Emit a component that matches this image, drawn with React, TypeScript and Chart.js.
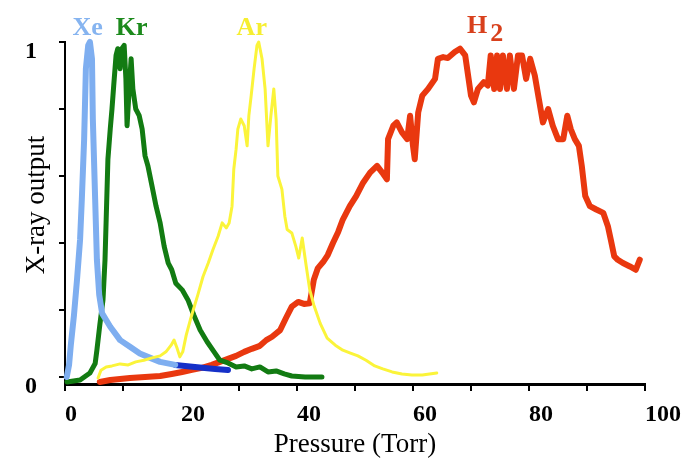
import React, { useEffect, useRef } from "react";
import { Chart, registerables } from "chart.js";

Chart.register(...registerables);

// ---- data (Pressure in Torr, normalised X-ray output) ----
const xeX = [0.3, 0.7, 1.0, 1.55, 2.07, 2.6, 2.9, 3.3, 3.6, 4.0, 4.3, 4.65, 4.8, 5.2, 5.5, 5.9, 6.4, 7.8, 9.5, 11.2, 12.9, 14.7, 16.4, 19.0];
const xeY = [0.0, 0.036, 0.095, 0.185, 0.29, 0.41, 0.53, 0.71, 0.92, 0.99, 1.0, 0.95, 0.77, 0.53, 0.35, 0.245, 0.19, 0.15, 0.11, 0.09, 0.07, 0.057, 0.045, 0.036];

const blueX = [19.0, 20.7, 22.4, 24.1, 25.9, 28.1];
const blueY = [0.036, 0.033, 0.03, 0.027, 0.024, 0.021];

const krX = [0.35, 2.6, 4.3, 5.2, 5.5, 6.0, 6.55, 6.9, 7.1, 7.4, 7.8, 8.1, 8.4, 8.8, 9.1, 9.5, 9.8, 10.2, 10.5, 10.7, 11.0, 11.4, 11.7, 12.2, 12.8, 13.3, 13.8, 14.3, 15.0, 15.7, 16.4, 17.1, 17.8, 18.4, 19.1, 20.2, 21.2, 22.2, 23.3, 24.5, 25.7, 26.7, 28.1, 29.5, 30.9, 32.2, 33.6, 35.0, 36.4, 37.8, 39.1, 41.4, 44.3];
const krY = [-0.015, -0.009, 0.012, 0.04, 0.08, 0.155, 0.23, 0.35, 0.47, 0.65, 0.74, 0.8, 0.87, 0.96, 0.98, 0.92, 0.98, 0.99, 0.89, 0.75, 0.84, 0.95, 0.86, 0.8, 0.78, 0.74, 0.66, 0.63, 0.57, 0.51, 0.46, 0.39, 0.34, 0.32, 0.28, 0.26, 0.23, 0.185, 0.14, 0.105, 0.075, 0.05, 0.042, 0.03, 0.033, 0.024, 0.03, 0.015, 0.018, 0.009, 0.003, 0.0, 0.0];

const arX = [5.7, 6.2, 7.1, 8.1, 9.5, 10.9, 12.2, 13.6, 15.0, 16.4, 17.4, 18.3, 18.8, 19.3, 19.8, 20.3, 20.9, 21.6, 22.2, 22.9, 23.8, 24.7, 25.5, 26.4, 27.1, 27.8, 28.3, 28.8, 29.1, 29.5, 29.8, 30.3, 30.9, 31.4, 31.7, 32.1, 32.6, 33.1, 33.4, 33.97, 34.5, 35.0, 35.5, 36.0, 36.4, 36.7, 37.4, 37.9, 38.3, 39.1, 39.8, 40.3, 40.9, 41.6, 42.2, 42.9, 44.0, 45.2, 46.6, 47.9, 49.1, 50.5, 51.9, 53.4, 54.8, 56.4, 58.1, 59.8, 61.6, 64.1];
const arY = [-0.003, 0.02, 0.03, 0.033, 0.039, 0.036, 0.045, 0.05, 0.057, 0.063, 0.075, 0.095, 0.11, 0.087, 0.06, 0.075, 0.125, 0.17, 0.205, 0.245, 0.3, 0.34, 0.38, 0.42, 0.46, 0.445, 0.46, 0.51, 0.62, 0.68, 0.74, 0.77, 0.75, 0.69, 0.78, 0.84, 0.92, 0.99, 1.0, 0.95, 0.86, 0.69, 0.78, 0.86, 0.77, 0.6, 0.56, 0.48, 0.44, 0.43, 0.39, 0.355, 0.415, 0.33, 0.26, 0.215, 0.16, 0.116, 0.095, 0.08, 0.072, 0.063, 0.05, 0.033, 0.024, 0.015, 0.009, 0.006, 0.006, 0.012];

const h2X = [6.0, 7.8, 9.5, 11.2, 13.8, 16.4, 18.4, 20.2, 21.9, 23.6, 25.3, 26.7, 28.1, 29.5, 30.9, 32.2, 33.6, 34.7, 35.7, 37.1, 38.1, 39.1, 40.2, 41.2, 42.2, 42.9, 43.6, 44.5, 45.3, 46.2, 47.1, 47.9, 49.1, 50.2, 51.4, 52.6, 53.8, 54.7, 55.5, 55.7, 56.6, 57.2, 58.1, 59.0, 59.5, 60.0, 60.3, 60.9, 61.6, 62.6, 63.8, 64.3, 65.2, 66.0, 67.2, 68.1, 69.0, 69.5, 70.0, 70.5, 71.2, 72.2, 72.9, 73.4, 74.0, 74.5, 75.0, 75.5, 76.2, 76.7, 77.4, 78.1, 78.8, 79.5, 80.2, 81.0, 81.7, 82.4, 83.3, 84.1, 85.0, 85.9, 86.6, 87.2, 87.9, 88.6, 89.1, 89.7, 90.5, 91.6, 92.8, 93.6, 94.1, 94.7, 95.3, 96.2, 97.4, 98.4, 99.1];
const h2Y = [-0.015, -0.009, -0.006, -0.003, 0.0, 0.003, 0.009, 0.015, 0.021, 0.027, 0.036, 0.045, 0.054, 0.063, 0.075, 0.084, 0.093, 0.11, 0.12, 0.14, 0.176, 0.21, 0.224, 0.218, 0.22, 0.29, 0.325, 0.343, 0.364, 0.4, 0.433, 0.47, 0.51, 0.54, 0.58, 0.61, 0.63, 0.61, 0.59, 0.71, 0.75, 0.76, 0.73, 0.71, 0.78, 0.69, 0.65, 0.79, 0.84, 0.86, 0.89, 0.95, 0.955, 0.952, 0.97, 0.98, 0.96, 0.9, 0.84, 0.82, 0.86, 0.88, 0.87, 0.96, 0.86, 0.96, 0.86, 0.96, 0.86, 0.96, 0.86, 0.96, 0.96, 0.89, 0.95, 0.9, 0.83, 0.76, 0.8, 0.75, 0.71, 0.71, 0.78, 0.74, 0.71, 0.69, 0.63, 0.54, 0.51, 0.5, 0.49, 0.45, 0.41, 0.36, 0.35, 0.34, 0.33, 0.32, 0.35];

const xTickValues = [0, 10, 20, 30, 40, 50, 60, 70, 80, 90, 100];
const xLabelEvery = 20;
const yTickValues = [0, 0.2, 0.4, 0.6, 0.8, 1];
const yLabelValues = [0, 1];

const seriesNames = ["Xe", "Kr", "Ar", "H"];
const seriesLabelX = [3.9, 11.5, 32.2, 72.6];
const seriesLabelY = [1.022, 1.022, 1.022, 1.028];
const seriesLabelColors = ["#86b4f0", "#1c8a1c", "#f6ee30", "#d8401c"];

const zip = (xs: number[], ys: number[]) => xs.map((x, i) => ({ x, y: ys[i] }));

const SERIF = "'Liberation Serif', 'DejaVu Serif', serif";

const textPlugin = {
  id: "customText",
  afterDraw(chart: any) {
    const { ctx, chartArea, scales } = chart;
    const xs = scales.x;
    const ys = scales.y;
    ctx.save();
    // y tick labels
    ctx.fillStyle = "#000";
    ctx.font = `bold 24px ${SERIF}`;
    ctx.textAlign = "center";
    ctx.textBaseline = "middle";
    yLabelValues.forEach((v) => {
      ctx.fillText(String(v), chartArea.left - 34, ys.getPixelForValue(v) + 10);
    });
    // y axis title
    ctx.save();
    ctx.translate(chartArea.left - 28, (chartArea.top + chartArea.bottom) / 2 - 8);
    ctx.rotate(-Math.PI / 2);
    ctx.font = `27px ${SERIF}`;
    ctx.fillText("X-ray output", 0, 0);
    ctx.restore();
    // series labels
    ctx.font = `bold 26px ${SERIF}`;
    ctx.textBaseline = "alphabetic";
    seriesNames.forEach((name, i) => {
      const px = xs.getPixelForValue(seriesLabelX[i]);
      const py = ys.getPixelForValue(seriesLabelY[i]);
      ctx.fillStyle = seriesLabelColors[i];
      if (name === "H") {
        ctx.textAlign = "left";
        const w = ctx.measureText("H").width;
        ctx.fillText("H", px - 19, py);
        ctx.fillText("2", px - 19 + w + 3, py + 8);
      } else {
        ctx.textAlign = "center";
        ctx.fillText(name, px, py);
      }
    });
    ctx.restore();
  },
};

export default function App() {
  const ref = useRef<HTMLCanvasElement | null>(null);
  useEffect(() => {
    document.body.style.margin = "0";
    if (!ref.current) return;
    const lineBase = {
      pointRadius: 0,
      tension: 0,
      fill: false,
      clip: false as any,
      borderJoinStyle: "round" as const,
      borderCapStyle: "round" as const,
    };
    const chart = new Chart(ref.current, {
      type: "line",
      data: {
        datasets: [
          { ...lineBase, label: "Ar", data: zip(arX, arY), borderColor: "#fbf43a", borderWidth: 3 },
          { ...lineBase, label: "Xe", data: zip(xeX, xeY), borderColor: "#7eaef0", borderWidth: 6 },
          { ...lineBase, label: "Kr", data: zip(krX, krY), borderColor: "#127b12", borderWidth: 5 },
          { ...lineBase, label: "tail", data: zip(blueX, blueY), borderColor: "#1530c8", borderWidth: 6 },
          { ...lineBase, label: "H2", data: zip(h2X, h2Y), borderColor: "#e9380f", borderWidth: 6 },
        ],
      },
      options: {
        animation: false,
        responsive: false,
        layout: { padding: { top: 42, right: 51, left: 0, bottom: 0 } },
        plugins: { legend: { display: false }, tooltip: { enabled: false } },
        scales: {
          x: {
            type: "linear",
            min: 0,
            max: 100,
            afterBuildTicks: (s: any) => {
              s.ticks = xTickValues.map((v) => ({ value: v }));
            },
            ticks: {
              autoSkip: false,
              maxRotation: 0,
              align: "start",
              padding: 9,
              color: "#000",
              font: { family: SERIF, size: 24, weight: "bold" },
              callback: (v: any) => (Number(v) % xLabelEvery === 0 ? String(v) : ""),
            },
            grid: { drawOnChartArea: false, drawTicks: true, tickLength: 7, color: "#000", lineWidth: 2 },
            border: { display: true, color: "#000", width: 3 },
            title: {
              display: true,
              text: "Pressure (Torr)",
              color: "#000",
              font: { family: SERIF, size: 27, lineHeight: 1 },
              padding: { top: 0, bottom: 1 },
            },
            afterFit: (s: any) => {
              s.height = 75;
              s.paddingLeft = 0;
              s.paddingRight = 0;
            },
          },
          y: {
            type: "linear",
            min: -0.021,
            max: 1,
            afterBuildTicks: (s: any) => {
              s.ticks = yTickValues.map((v) => ({ value: v }));
            },
            ticks: { display: false },
            grid: { drawOnChartArea: false, drawTicks: true, tickLength: 6, color: "#000", lineWidth: 2 },
            border: { display: true, color: "#000", width: 2 },
            afterFit: (s: any) => {
              s.width = 65;
              s.paddingTop = 0;
              s.paddingBottom = 0;
            },
          },
        },
      } as any,
      plugins: [textPlugin],
    });
    return () => chart.destroy();
  }, []);
  return <canvas ref={ref} width={696} height={459} style={{ display: "block" }} />;
}
